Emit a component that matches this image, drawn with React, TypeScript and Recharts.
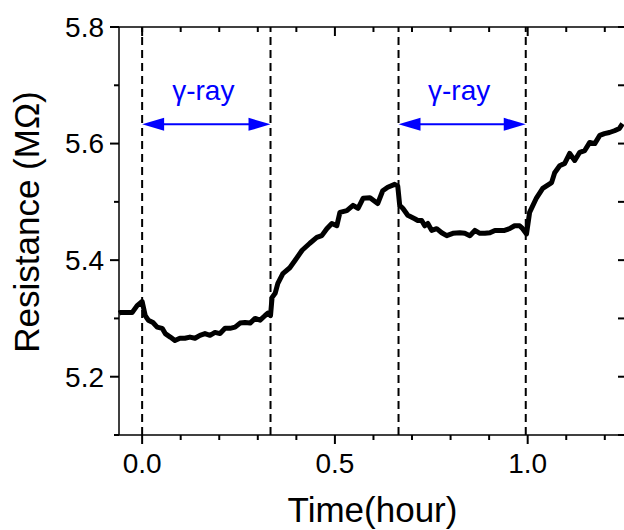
import { LineChart, Line, XAxis, YAxis, ReferenceLine } from "recharts";

// time in hours, resistance in MOhm
const time = [
  -0.06, -0.057, -0.039, -0.026, -0.013, 0.0, 0.008, 0.016, 0.028, 0.039,
  0.052, 0.06, 0.073, 0.085, 0.098, 0.111, 0.124, 0.137, 0.15, 0.163,
  0.176, 0.189, 0.202, 0.215, 0.228, 0.241, 0.254, 0.267, 0.28, 0.293,
  0.306, 0.319, 0.326, 0.333, 0.337, 0.345, 0.352, 0.365, 0.383, 0.396,
  0.415, 0.435, 0.453, 0.466, 0.479, 0.492, 0.505, 0.513, 0.531, 0.547,
  0.56, 0.573, 0.591, 0.611, 0.624, 0.637, 0.655, 0.663, 0.668, 0.676,
  0.689, 0.707, 0.715, 0.725, 0.733, 0.741, 0.751, 0.764, 0.777, 0.79,
  0.806, 0.824, 0.837, 0.85, 0.863, 0.876, 0.889, 0.902, 0.915, 0.927,
  0.94, 0.953, 0.966, 0.979, 0.987, 0.997, 1.005, 1.023, 1.039, 1.062,
  1.07, 1.083, 1.096, 1.109, 1.122, 1.135, 1.148, 1.161, 1.174, 1.187,
  1.199, 1.212, 1.225, 1.238, 1.246,
];

const resistance = [
  5.309, 5.31, 5.31, 5.31, 5.322, 5.329, 5.305, 5.297, 5.293, 5.285,
  5.283, 5.274, 5.268, 5.262, 5.266, 5.266, 5.268, 5.266, 5.271, 5.274,
  5.271, 5.276, 5.274, 5.283, 5.283, 5.285, 5.292, 5.293, 5.292, 5.3,
  5.297, 5.305, 5.309, 5.305, 5.336, 5.343, 5.36, 5.377, 5.387, 5.399,
  5.417, 5.429, 5.439, 5.442, 5.454, 5.463, 5.459, 5.482, 5.485, 5.494,
  5.489, 5.506, 5.507, 5.497, 5.519, 5.525, 5.53, 5.527, 5.494, 5.489,
  5.477, 5.471, 5.468, 5.468, 5.459, 5.463, 5.451, 5.454, 5.447, 5.442,
  5.446, 5.447, 5.446, 5.442, 5.451, 5.446, 5.446, 5.447, 5.451, 5.451,
  5.451, 5.454, 5.459, 5.459, 5.454, 5.445, 5.482, 5.507, 5.523, 5.533,
  5.55, 5.562, 5.566, 5.583, 5.571, 5.585, 5.588, 5.602, 5.6, 5.614,
  5.617, 5.619, 5.622, 5.626, 5.634,
];

const xTicks = [0, 0.1, 0.2, 0.3, 0.4, 0.5, 0.6, 0.7, 0.8, 0.9, 1.0, 1.1, 1.2];
const yTicks = [5.1, 5.2, 5.3, 5.4, 5.5, 5.6, 5.7, 5.8];

// irradiation windows
const exposureStart = [0, 0.665];
const exposureEnd = [0.333, 0.995];
const arrowLevel = 5.633;
const exposureLabel = "γ-ray";

const data = time.map((t, i) => ({ t, r: resistance[i] }));

const FONT = "'Liberation Sans', Arial, sans-serif";
const BLUE = "#0000FF";

const isMajorX = (v: number) => Math.round(v * 10) % 5 === 0;

// short tick mark starting at (x, y), going dx/dy
function Mark({ x, y, dx, dy }: { x: number; y: number; dx: number; dy: number }) {
  return <path d={`M${x},${y}L${x + dx},${y + dy}`} stroke="#000" strokeWidth={2} fill="none" />;
}

function BottomLabel(props: any) {
  const v = props.payload.value;
  if (!isMajorX(v)) return <g />;
  return (
    <text x={Number(props.x)} y={Number(props.y) + 38} textAnchor="middle" fontSize={28} fontFamily={FONT} fill="#000">
      {v.toFixed(1)}
    </text>
  );
}

// x tick marks on the bottom (outward) and top (inward) frame edges
function FrameTicks(props: any) {
  const x = Number(props.x1);
  const top = Math.min(props.y1, props.y2);
  const bottom = Math.max(props.y1, props.y2);
  const len = props.major ? 9 : 5;
  return (
    <g>
      <Mark x={x} y={bottom} dx={0} dy={len} />
      <Mark x={x} y={top} dx={0} dy={len} />
    </g>
  );
}

function LeftTick(props: any) {
  const x = Number(props.x);
  const y = Number(props.y);
  const major = Math.round(props.payload.value * 10) % 2 === 0;
  return (
    <g>
      <Mark x={x} y={y} dx={major ? -9 : -5} dy={0} />
      {major && (
        <text x={x - 15} y={y} dy="0.35em" textAnchor="end" fontSize={28} fontFamily={FONT} fill="#000">
          {props.payload.value.toFixed(1)}
        </text>
      )}
    </g>
  );
}

function RightTick(props: any) {
  return <Mark x={Number(props.x)} y={Number(props.y)} dx={-8} dy={0} />;
}

function RangeArrow(props: any) {
  const { x1, y1, x2 } = props;
  const head = 22;
  const half = 6.5;
  const mid = (x1 + x2) / 2;
  return (
    <g>
      <line x1={x1 + head - 2} y1={y1} x2={x2 - head + 2} y2={y1} stroke={BLUE} strokeWidth={2} />
      <polygon points={`${x1},${y1} ${x1 + head},${y1 - half} ${x1 + head},${y1 + half}`} fill={BLUE} />
      <polygon points={`${x2},${y1} ${x2 - head},${y1 - half} ${x2 - head},${y1 + half}`} fill={BLUE} />
      <text x={mid - 3} y={y1 - 24} textAnchor="middle" fontSize={28} fontFamily={FONT} fill={BLUE}>
        {exposureLabel}
      </text>
    </g>
  );
}

export default function App() {
  const axisLine = { stroke: "#000", strokeWidth: 1.5 };
  const xDomain = [-0.06, 1.255];
  const yDomain = [5.1, 5.8];

  return (
    <div style={{ position: "absolute", left: 0, top: 0, width: 624, height: 530, overflow: "hidden", background: "#fff" }}>
      <LineChart width={627} height={530} data={data} margin={{ top: 26, right: 0, bottom: 0, left: 0 }}>
        <XAxis
          dataKey="t"
          type="number"
          domain={xDomain}
          ticks={xTicks}
          interval={0}
          height={95}
          tickSize={0}
          tickMargin={0}
          tickLine={false}
          axisLine={axisLine}
          tick={(p: any) => <BottomLabel {...p} />}
          label={{
            content: (p: any) => (
              <text
                x={p.viewBox.x + p.viewBox.width / 2}
                y={p.viewBox.y + 87}
                textAnchor="middle"
                fontSize={35}
                fontFamily={FONT}
                fill="#000"
              >
                Time(hour)
              </text>
            ),
          }}
        />
        <XAxis
          xAxisId="top"
          dataKey="t"
          orientation="top"
          type="number"
          domain={xDomain}
          ticks={xTicks}
          interval={0}
          height={1}
          tickSize={0}
          tickMargin={0}
          tickLine={false}
          axisLine={axisLine}
          tick={() => <g />}
        />
        <YAxis
          type="number"
          domain={yDomain}
          ticks={yTicks}
          interval={0}
          width={119}
          tickSize={0}
          tickMargin={0}
          tickLine={false}
          axisLine={axisLine}
          tick={(p: any) => <LeftTick {...p} />}
          label={{
            content: (p: any) => {
              const cx = p.viewBox.x + 27;
              const cy = p.viewBox.y + p.viewBox.height / 2 - 9;
              return (
                <text
                  x={cx}
                  y={cy}
                  dy="0.35em"
                  transform={`rotate(-90 ${cx} ${cy})`}
                  textAnchor="middle"
                  fontSize={35}
                  fontFamily={FONT}
                  fill="#000"
                >
                  Resistance (MΩ)
                </text>
              );
            },
          }}
        />
        <YAxis
          yAxisId="right"
          orientation="right"
          type="number"
          domain={yDomain}
          ticks={yTicks}
          interval={0}
          width={1}
          tickSize={0}
          tickMargin={0}
          tickLine={false}
          axisLine={axisLine}
          tick={(p: any) => <RightTick {...p} />}
        />
        {xTicks.map((v) => (
          <ReferenceLine
            key={`t${v}`}
            x={v}
            ifOverflow="visible"
            shape={(p: any) => <FrameTicks {...p} major={isMajorX(v)} />}
          />
        ))}
        {[...exposureStart, ...exposureEnd].map((v) => (
          <ReferenceLine key={`v${v}`} x={v} stroke="#000" strokeWidth={2} strokeDasharray="8 5" />
        ))}
        {exposureStart.map((s, i) => (
          <ReferenceLine
            key={`a${i}`}
            segment={[
              { x: s, y: arrowLevel },
              { x: exposureEnd[i], y: arrowLevel },
            ]}
            shape={(p: any) => <RangeArrow {...p} />}
          />
        ))}
        {/* invisible twin so the top and right frame axes get a scale */}
        <Line
          xAxisId="top"
          yAxisId="right"
          dataKey="r"
          stroke="none"
          dot={false}
          activeDot={false}
          legendType="none"
          isAnimationActive={false}
        />
        <Line
          dataKey="r"
          type="linear"
          stroke="#000"
          strokeWidth={5}
          strokeLinejoin="round"
          dot={false}
          isAnimationActive={false}
        />
      </LineChart>
    </div>
  );
}
